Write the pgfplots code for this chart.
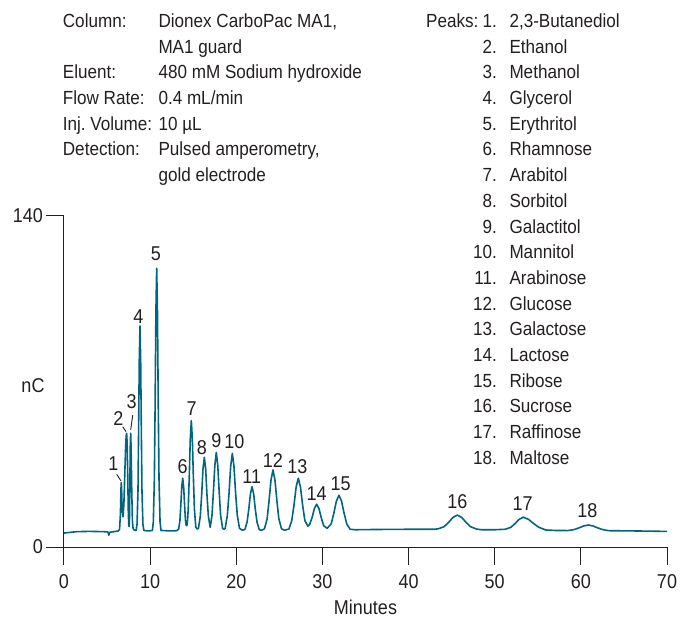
\documentclass[border=0pt]{standalone}
\usepackage{fontspec}
\setmainfont{Liberation Sans}[FakeStretch=0.9]
\usepackage{pgfplots}
\pgfplotsset{compat=1.18}
\definecolor{trace}{RGB}{0,102,128}
\definecolor{ink}{RGB}{35,31,32}
\begin{document}
\begin{tikzpicture}
\path[use as bounding box] (-64bp,-72bp) rectangle (616bp,547bp);
\begin{axis}[
  at={(0,0)}, anchor=south west,
  scale only axis, width=603bp, height=331bp,
  xmin=0, xmax=70, ymin=0, ymax=140,
  axis lines*=left,
  axis line style={ink, line width=1bp},
  every tick/.style={ink, line width=1bp},
  tick align=outside, major tick length=17.5bp,
  xtick={0,10,...,70}, ytick={0,140},
  /pgf/number format/assume math mode=true,
  ticklabel style={font=\fontsize{20bp}{24bp}\selectfont, text=ink},
  xticklabel style={yshift=-7bp},
  xlabel={Minutes}, ylabel={nC},
  label style={font=\fontsize{20bp}{24bp}\selectfont, text=ink},
  xlabel style={at={(axis description cs:0.5,0)}, anchor=base, yshift=-67bp},
  ylabel style={rotate=-90, at={(axis description cs:0,0.489)}, anchor=center, xshift=-31bp},
  clip=false,
]
\addplot[trace, line width=1.6bp, line join=round] coordinates {
(0,5.9) (0.5,6.1) (1.5,6.5) (3,6.6) (4.5,6.5) (5.1,6.4) (5.2,5.0) (5.3,6.2) (6.0,6.6) (6.3,6.8)
(6.45,7.5) (6.55,14) (6.62,25) (6.65,27.2) (6.69,24) (6.75,16) (6.85,12.8) (6.95,18) (7.05,30) (7.15,42) (7.22,47) (7.27,48.1) (7.33,44) (7.40,30) (7.47,14) (7.52,9.5) (7.56,8.6) (7.60,12) (7.65,28) (7.70,44) (7.74,48.1) (7.79,42) (7.86,25) (7.94,11) (8.02,7.8) (8.15,7.2)
(8.37,7.0) (8.48,9.7) (8.59,24.0) (8.66,49.0) (8.74,79.2) (8.82,93.5) (8.90,79.2) (8.98,49.0) (9.05,24.0) (9.16,9.7) (9.27,7.0)
(9.8,6.8)
(10.26,7.0) (10.37,10.6) (10.49,28.8) (10.58,60.9) (10.67,99.6) (10.76,117.9) (10.85,99.6) (10.94,60.9) (11.03,28.8) (11.15,10.6) (11.26,7.0)
(12.3,6.8) (13.1,6.9)
(13.31,7.6) (13.46,11.2) (13.56,17.7) (13.67,25.4) (13.78,29.1) (13.89,25.4) (14.00,17.7) (14.10,11.3) (14.18,9.2) (14.26,9.0) (14.34,11.1)
(14.42,16.0) (14.54,29.5) (14.66,45.7) (14.78,53.4) (14.90,45.7) (15.02,29.5) (15.14,16.0) (15.30,8.4) (15.45,7.6)
(15.61,7.9) (15.82,13.0) (15.98,21.9) (16.13,32.8) (16.29,37.9) (16.45,32.8) (16.60,21.9) (16.76,13.0) (16.97,8.3)
(17.18,13.4) (17.34,23.0) (17.51,34.5) (17.68,40.0) (17.85,34.5) (18.02,23.0) (18.18,13.4) (18.41,7.9) (18.58,7.5)
(18.71,7.9) (18.96,13.3) (19.16,22.8) (19.35,34.2) (19.54,39.6) (19.73,34.2) (19.92,22.8) (20.12,13.3) (20.37,7.9) (20.7,7.1)
(21.0,7.4) (21.25,10.5) (21.45,15.9) (21.64,22.4) (21.83,25.5) (22.02,22.4) (22.21,15.9) (22.41,10.5) (22.66,7.4) (22.9,7.0)
(23.27,7.7) (23.58,11.9) (23.80,19.4) (24.03,28.3) (24.26,32.6) (24.49,28.3) (24.72,19.4) (24.94,11.9) (25.25,7.7) (25.6,7.1)
(26.11,7.6) (26.44,11.2) (26.70,17.7) (26.95,25.4) (27.2,29.1) (27.45,25.4) (27.70,17.7) (27.96,11.2) (28.3,8.8)
(28.52,9.6) (28.79,12.3) (29.06,16.2) (29.33,18.1) (29.60,16.2) (29.87,12.3) (30.14,9.0) (30.55,7.9)
(31.02,9.8) (31.32,14.2) (31.62,19.4) (31.92,21.9) (32.22,19.4) (32.52,14.2) (32.82,9.8) (33.22,7.5) (33.8,7.3)
(36,7.4) (40,7.5) (43.0,7.5)
(43.45,7.7) (44.13,8.6) (44.64,10.4) (45.15,12.5) (45.66,13.5) (46.17,12.5) (46.68,10.4) (47.19,8.6) (47.87,7.6) (48.5,7.3)
(50,7.3) (51.24,7.5)
(51.88,8.35) (52.36,9.9) (52.84,11.7) (53.32,12.6) (53.92,11.7) (54.52,9.9) (55.12,8.35) (55.92,7.2) (57,7.0)
(58.5,6.95) (59.25,7.4) (59.79,8.1) (60.33,8.9) (60.87,9.3) (61.41,8.9) (61.95,8.1) (62.49,7.4) (63.2,6.9) (66,6.8) (70,6.6)
};
\begin{scope}[every node/.style={anchor=base, inner sep=0pt, font=\fontsize{20bp}{24bp}\selectfont, text=ink}]
\node at (axis cs:5.72,32.4) {1};
\node at (axis cs:6.30,51.5) {2};
\node at (axis cs:7.86,58.5) {3};
\node at (axis cs:8.63,94.4) {4};
\node at (axis cs:10.68,121.0) {5};
\node at (axis cs:13.78,31.0) {6};
\node at (axis cs:14.82,55.7) {7};
\node at (axis cs:16.02,39.2) {8};
\node at (axis cs:17.68,42.0) {9};
\node at (axis cs:19.77,41.6) {10};
\node at (axis cs:21.79,26.8) {11};
\node at (axis cs:24.26,33.8) {12};
\node at (axis cs:27.08,31.0) {13};
\node at (axis cs:29.34,19.75) {14};
\node at (axis cs:32.12,24.0) {15};
\node at (axis cs:45.66,16.2) {16};
\node at (axis cs:53.25,15.5) {17};
\node at (axis cs:60.75,12.4) {18};
\end{scope}
\draw[ink, line width=0.9bp] (axis cs:6.12,30.75) -- (axis cs:6.62,27.9);
\draw[ink, line width=0.9bp] (axis cs:6.81,50.9) -- (axis cs:7.20,48.8);
\draw[ink, line width=0.9bp] (axis cs:7.98,55.8) -- (axis cs:7.74,49.5);
\end{axis}
\begin{scope}[every node/.style={inner sep=0pt, font=\fontsize{19bp}{23bp}\selectfont, text=ink}]
\node[anchor=base west] at (-1.3bp,519.5bp) {Column:};
\node[anchor=base west] at (94.3bp,519.5bp) {Dionex CarboPac MA1,};
\node[anchor=base west] at (94.3bp,493.8bp) {MA1 guard};
\node[anchor=base west] at (-1.3bp,468.1bp) {Eluent:};
\node[anchor=base west] at (94.3bp,468.1bp) {480 mM Sodium hydroxide};
\node[anchor=base west] at (-1.3bp,442.4bp) {Flow Rate:};
\node[anchor=base west] at (94.3bp,442.4bp) {0.4 mL/min};
\node[anchor=base west] at (-1.3bp,416.7bp) {Inj.\ Volume:};
\node[anchor=base west] at (94.3bp,416.7bp) {10 µL};
\node[anchor=base west] at (-1.3bp,391.0bp) {Detection:};
\node[anchor=base west] at (94.3bp,391.0bp) {Pulsed amperometry,};
\node[anchor=base west] at (94.3bp,365.3bp) {gold electrode};
\node[anchor=base west] at (362bp,519.5bp) {Peaks:};
\foreach \name [count=\i] in {{2,3-Butanediol},Ethanol,Methanol,Glycerol,Erythritol,Rhamnose,Arabitol,Sorbitol,Galactitol,Mannitol,Arabinose,Glucose,Galactose,Lactose,Ribose,Sucrose,Raffinose,Maltose}{
  \pgfmathsetmacro{\yy}{519.5-25.7*(\i-1)}
  \node[anchor=base east] at (433bp,\yy bp) {\i.};
  \node[anchor=base west] at (445.3bp,\yy bp) {\name};
}
\end{scope}
\end{tikzpicture}
\end{document}
